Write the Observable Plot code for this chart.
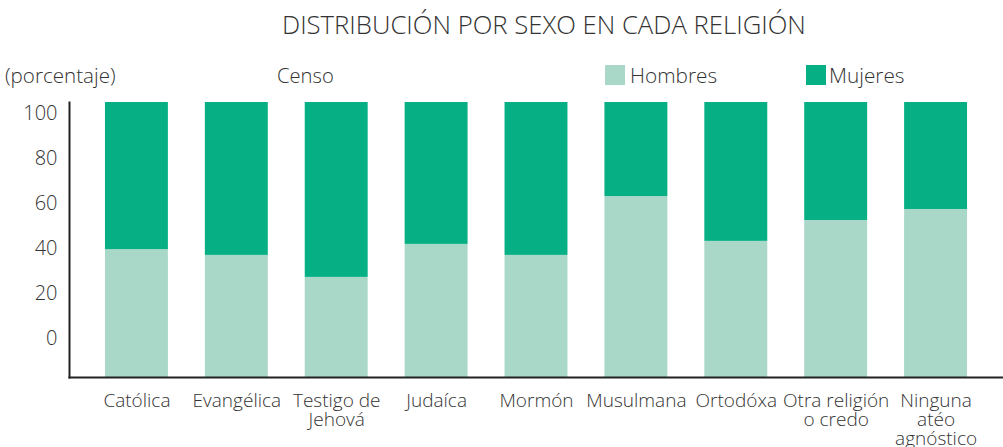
<!DOCTYPE html>
<html><head><meta charset="utf-8">
<script src="https://cdn.jsdelivr.net/npm/d3@7"></script>
<script src="https://cdn.jsdelivr.net/npm/@observablehq/plot@0.6"></script>
<style>
body{margin:0;background:#fff;font-family:"Open Sans",sans-serif;color:#333}
#wrap{position:relative;width:1003px;height:447px;overflow:hidden;background:#fff}
#wrap svg{position:absolute;left:0;top:0}
.t{position:absolute;white-space:nowrap;line-height:1;font-weight:300}
.sw{position:absolute;width:20px;height:20px}
</style></head><body>
<div id="wrap"></div>
<script>
// ---- data ----
const religiones = ["Católica","Evangélica","Testigo de\nJehová","Judaíca","Mormón","Musulmana","Ortodóxa","Otra religión\no credo","Ninguna\natéo\nagnóstico"];
const hombres = [46.5, 44.4, 36.4, 48.4, 44.4, 65.8, 49.5, 57.1, 61.1];
const mujeres = [53.5, 55.6, 63.6, 51.6, 55.6, 34.2, 50.5, 42.9, 38.9];
const series = ["Hombres","Mujeres"];
const colores = ["#a9d8c8","#06b084"];
const yTicks = [0, 20, 40, 60, 80, 100];
const titulo = "DISTRIBUCIÓN POR SEXO EN CADA RELIGIÓN";
const unidad = "(porcentaje)";
const fuente = "Censo";

const rows = [];
religiones.forEach((r, i) => {
  rows.push({religion: r, sexo: series[0], valor: hombres[i]});
  rows.push({religion: r, sexo: series[1], valor: mujeres[i]});
});

const W = 1003, H = 447;
const wrap = document.getElementById("wrap");
const font = "Open Sans, sans-serif";

const main = Plot.plot({
  width: W, height: H,
  marginLeft: 69, marginRight: 0, marginTop: 102, marginBottom: 70,
  style: {fontFamily: font, color: "#333", background: "transparent"},
  x: {domain: religiones, paddingInner: 0.37, paddingOuter: 0.36, round: false, label: null},
  y: {domain: [0, 100], axis: null},
  color: {domain: series, range: colores},
  marks: [
    Plot.barY(rows, {x: "religion", y: "valor", fill: "sexo"}),
    Plot.axisX({tickSize: 0, tickPadding: 16, fontSize: 19, lineHeight: 1, fontWeight: 300, fill: "#333", label: null}),
    Plot.frame({anchor: "left", stroke: "#222", strokeWidth: 2}),
    Plot.frame({anchor: "bottom", stroke: "#222", strokeWidth: 2})
  ]
});
wrap.appendChild(main);

const axisPlot = Plot.plot({
  width: 70, height: H,
  marginLeft: 60, marginRight: 0, marginTop: 113, marginBottom: 109,
  style: {fontFamily: font, color: "#333", background: "transparent"},
  y: {domain: [0, 100]},
  marks: [
    Plot.axisY(yTicks, {tickSize: 0, tickPadding: 3, fontSize: 20, fontWeight: 300, fill: "#333", label: null})
  ]
});
wrap.appendChild(axisPlot);

function addText(txt, left, top, size) {
  const d = document.createElement("div");
  d.className = "t"; d.textContent = txt;
  d.style.left = left + "px"; d.style.top = top + "px"; d.style.fontSize = size + "px";
  wrap.appendChild(d); return d;
}
function addSwatch(color, left, top) {
  const d = document.createElement("div");
  d.className = "sw"; d.style.background = color;
  d.style.left = left + "px"; d.style.top = top + "px";
  wrap.appendChild(d);
}
addText(titulo, 282, 12, 25.7);
addText(unidad, 5, 65, 20.6);
addText(fuente, 277, 65, 20.2);
addSwatch(colores[0], 605, 65);
addText(series[0], 630, 65, 20.8);
addSwatch(colores[1], 806, 65);
addText(series[1], 829, 65, 20.8);
</script>
</body></html>
